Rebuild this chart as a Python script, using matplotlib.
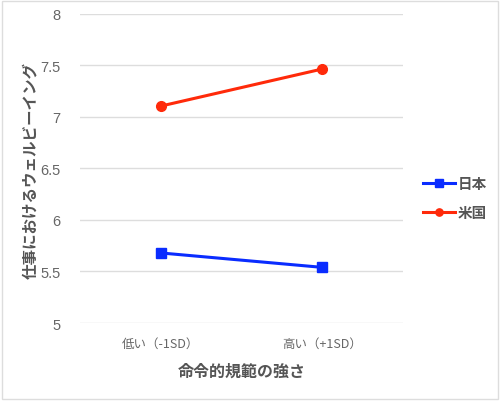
import matplotlib
matplotlib.use("Agg")
import matplotlib.pyplot as plt
from matplotlib.patches import Rectangle

plt.rcParams['font.family'] = ['Noto Sans CJK JP', 'DejaVu Sans']

categories = ["低い（-1SD）", "高い（+1SD）"]
japan = [5.68, 5.54]
usa = [7.105, 7.465]
series_names = ["日本", "米国"]
yticks = [5, 5.5, 6, 6.5, 7, 7.5, 8]
ytick_labels = ["5", "5.5", "6", "6.5", "7", "7.5", "8"]

fig = plt.figure(figsize=(5.0, 4.02), dpi=100)
ax = fig.add_axes([0.16, 0.194, 0.646, 0.769])

x = list(range(len(categories)))
ax.plot(x, japan, color="#0a2cff", lw=2.2, marker="s", ms=7, label=series_names[0])
ax.plot(x, usa, color="#ff2a0a", lw=2.2, marker="o", ms=7, label=series_names[1])

ax.set_xlim(-0.5, 1.5)
ax.set_ylim(5, 8)
ax.set_yticks(yticks)
ax.set_yticklabels(ytick_labels, fontfamily=['Liberation Sans', 'DejaVu Sans'])
ax.set_xticks(x)
ax.set_xticklabels(categories)
ax.grid(axis="y", color="#dddddd", lw=1)
ax.set_axisbelow(True)
for s in ax.spines.values():
    s.set_visible(False)
ax.tick_params(axis="both", length=0, colors="#666666")
ax.tick_params(axis="y", labelsize=10.5, pad=14)
ax.tick_params(axis="x", labelsize=9, pad=10)

ax.set_xlabel("命令的規範の強さ", fontsize=11.5, fontweight="bold", color="#555555", labelpad=9)
ax.set_ylabel("仕事におけるウェルビーイング", fontsize=11.2, fontweight="bold", color="#555555")
ax.yaxis.set_label_coords(-0.13, 0.498)

leg = ax.legend(loc="center left", bbox_to_anchor=(1.02, 0.405), frameon=False,
                handlelength=2.2, handletextpad=0.2, labelspacing=0.9,
                markerscale=0.75,
                prop={"weight": "bold", "size": 10.5})
for t in leg.get_texts():
    t.set_color("#555555")

fig.patches.append(Rectangle((0.004, 0.006), 0.992, 0.99, transform=fig.transFigure,
                             fill=False, edgecolor="#dddddd", lw=1))

fig.savefig("out.png", dpi=100)
